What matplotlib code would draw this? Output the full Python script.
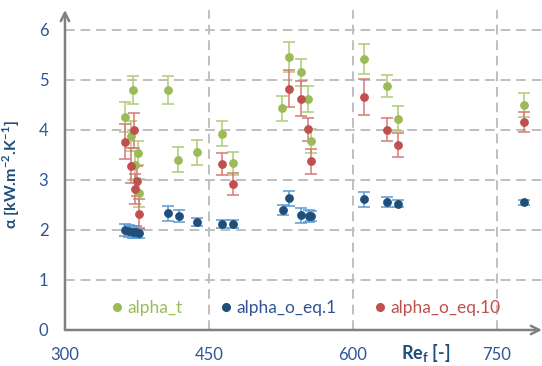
import matplotlib
matplotlib.use("Agg")
import matplotlib.pyplot as plt
from matplotlib.lines import Line2D

plt.rcParams['font.family'] = ['Lato', 'DejaVu Sans']
plt.rcParams['mathtext.fontset'] = 'custom'
plt.rcParams['mathtext.rm'] = 'Lato'
plt.rcParams['mathtext.bf'] = 'Lato:bold'

# alpha_t (green)
t_re = [363, 369, 371, 373, 376, 377, 407, 418, 438, 464, 475,
        526, 533, 546, 553, 556, 612, 635, 647, 778]
t_val = [4.25, 3.88, 4.79, 3.30, 3.53, 2.73, 4.79, 3.40, 3.55, 3.92, 3.33,
         4.43, 5.45, 5.15, 4.62, 3.78, 5.41, 4.88, 4.22, 4.49]
t_err = [0.30, 0.30, 0.28, 0.28, 0.24, 0.28, 0.28, 0.25, 0.25, 0.25, 0.23,
         0.25, 0.30, 0.27, 0.26, 0.24, 0.30, 0.22, 0.25, 0.24]

# alpha_o_eq.1 (blue)
o1_re = [363, 367, 371, 374, 377, 407, 419, 438, 464, 475,
         527, 533, 546, 554, 556, 612, 635, 647, 778]
o1_val = [1.99, 1.97, 1.95, 1.95, 1.93, 2.33, 2.27, 2.15, 2.12, 2.12,
          2.40, 2.63, 2.29, 2.27, 2.27, 2.61, 2.55, 2.52, 2.55]
o1_err = [0.12, 0.12, 0.12, 0.12, 0.10, 0.15, 0.12, 0.08, 0.08, 0.08,
          0.10, 0.15, 0.15, 0.12, 0.10, 0.15, 0.10, 0.07, 0.05]

# alpha_o_eq.10 (red)
o10_re = [363, 369, 372, 373, 375, 377, 464, 475,
          533, 546, 553, 556, 612, 635, 647, 778]
o10_val = [3.76, 3.28, 3.99, 2.81, 2.97, 2.32, 3.31, 2.92,
           4.82, 4.62, 4.01, 3.37, 4.65, 4.00, 3.70, 4.15]
o10_err = [0.35, 0.35, 0.35, 0.30, 0.30, 0.30, 0.22, 0.22,
           0.37, 0.35, 0.23, 0.25, 0.36, 0.23, 0.24, 0.20]

x_ticks = [300, 450, 600, 750]
y_ticks = [0, 1, 2, 3, 4, 5, 6]

green, green_err = '#9BBB59', '#AFCB78'
navy, navy_err = '#1F4E79', '#5B9BD5'
red, red_err = '#C0504D', '#D47A77'
tick_col = '#2F5597'
axis_col = '#808080'
grid_col = '#BFBFBF'

fig = plt.figure(figsize=(5.42, 3.66), dpi=100)
ax = fig.add_axes([0.1199, 0.0984, 0.8801, 0.8743])

series = [
    (t_re, t_val, t_err, green, green_err),
    (o1_re, o1_val, o1_err, navy, navy_err),
    (o10_re, o10_val, o10_err, red, red_err),
]
for xs, ys, es, c, ec in series:
    ax.errorbar(xs, ys, yerr=es, fmt='o', color=c, ms=5.3, mec=c,
                ecolor=ec, elinewidth=1.1, capsize=4.2, capthick=1.1, zorder=3)

ax.set_xlim(300, 797)
ax.set_ylim(0, 6.4)
ax.set_xticks(x_ticks)
ax.set_yticks(y_ticks)

# dashed grid
for y in y_ticks[1:]:
    ax.axhline(y, color=grid_col, lw=1.4, ls=(0, (5, 3)), zorder=1)
for x in x_ticks[1:]:
    ax.axvline(x, color=grid_col, lw=1.4, ls=(0, (5, 3)), zorder=1)

for s in ['top', 'right', 'left', 'bottom']:
    ax.spines[s].set_visible(False)

# axis arrows
ax.annotate('', xy=(1.0, 0), xytext=(0, 0), xycoords='axes fraction',
            arrowprops=dict(arrowstyle='->,head_length=0.6,head_width=0.3',
                            color=axis_col, lw=1.8, shrinkA=0, shrinkB=0),
            annotation_clip=False)
ax.annotate('', xy=(0, 1.0), xytext=(0, 0), xycoords='axes fraction',
            arrowprops=dict(arrowstyle='->,head_length=0.6,head_width=0.3',
                            color=axis_col, lw=1.8, shrinkA=0, shrinkB=0),
            annotation_clip=False)

ax.tick_params(axis='both', length=0, labelsize=12, labelcolor=tick_col)
ax.tick_params(axis='x', pad=12)
ax.tick_params(axis='y', pad=12)

ax.set_ylabel(r'α [kW.m$^{\mathbf{-2}}$.K$^{\mathbf{-1}}$]', fontsize=11.5,
              fontweight='bold', color=navy)
ax.yaxis.set_label_coords(-0.09, 0.484)

ax.text(0.755, -0.072, r'Re$_\mathbf{f}$ [-]', transform=ax.transAxes,
        ha='center', va='center', fontsize=13, fontweight='bold', color=navy)

handles = [
    Line2D([], [], ls='', marker='o', color=green, ms=5.5),
    Line2D([], [], ls='', marker='o', color=navy, ms=5.5),
    Line2D([], [], ls='', marker='o', color=red, ms=5.5),
]
ax.legend(handles, ['alpha_t', 'alpha_o_eq.1', 'alpha_o_eq.10'], ncol=3,
          loc='center', bbox_to_anchor=(0.505, 0.069), frameon=False,
          fontsize=12.5, handlelength=0.6, handletextpad=0.3, columnspacing=2.2,
          labelcolor=[green, tick_col, red])

fig.savefig('out.png', dpi=100)
